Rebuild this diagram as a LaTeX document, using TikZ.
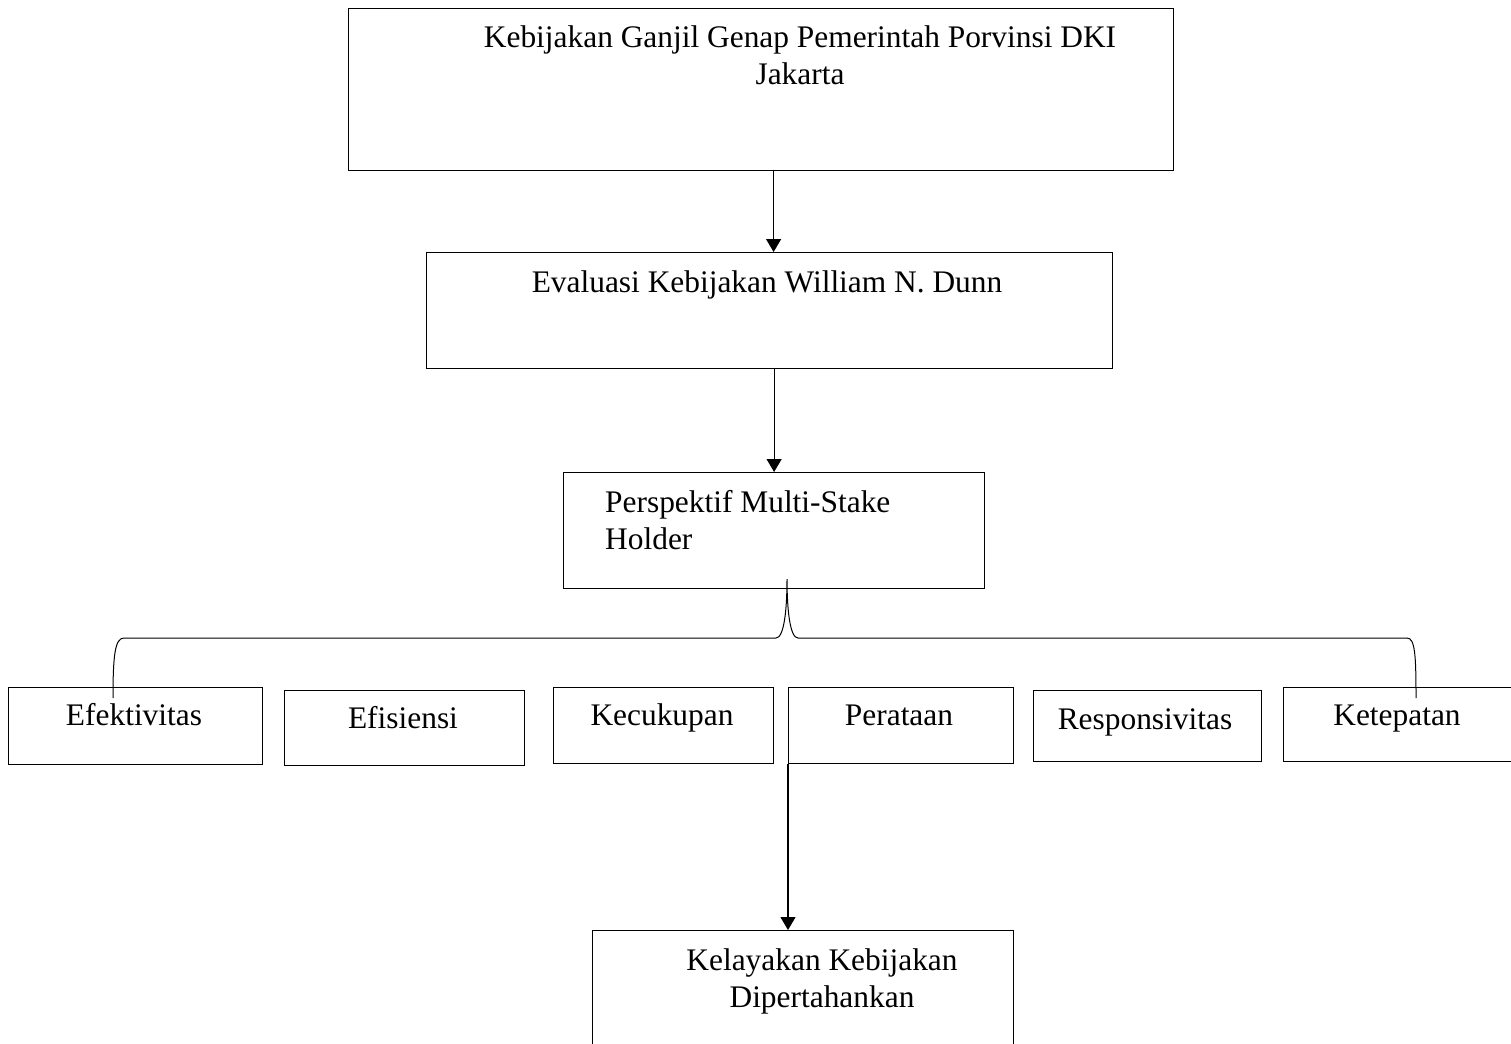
\documentclass[tikz,border=0pt]{standalone}
\usepackage{fontspec}
\setmainfont{Liberation Serif}
\usetikzlibrary{arrows.meta}

\begin{document}
\begin{tikzpicture}[x=1pt,y=-1pt,
    box/.style={draw,line width=1.2pt,anchor=north west,inner sep=0pt},
    lbl/.style={inner sep=0pt,font=\fontsize{31.4pt}{37pt}\selectfont},
    arr/.style={line width=1.2pt,-{Triangle[length=13pt,width=15pt]}}]
      \useasboundingbox (0,0) rectangle (1511,1043);
      % kotak
      \node[box,minimum width=825pt,minimum height=162pt] (ganjil) at (348,8) {};
      \node[box,minimum width=686pt,minimum height=116pt] (dunn) at (426,252) {};
      \node[box,minimum width=421pt,minimum height=116pt] (stake) at (563,472) {};
      \node[box,minimum width=254pt,minimum height=77pt] (efek) at (8,687) {};
      \node[box,minimum width=240pt,minimum height=75pt] (efis) at (284,690) {};
      \node[box,minimum width=220pt,minimum height=76pt] (kecu) at (553,687) {};
      \node[box,minimum width=225pt,minimum height=76pt] (rata) at (788,687) {};
      \node[box,minimum width=228pt,minimum height=71pt] (resp) at (1033,690) {};
      \node[box,minimum width=232pt,minimum height=74pt] (tepat) at (1283,687) {};
      \node[box,minimum width=421pt,minimum height=130pt] (layak) at (592,930) {};
      % teks
      \node[lbl,anchor=north,align=center] (ganjilTxt) at (800,25.6) {Kebijakan Ganjil Genap Pemerintah Porvinsi DKI\\Jakarta};
      \node[lbl,anchor=base] (dunnTxt) at (767,292) {Evaluasi Kebijakan William N. Dunn};
      \node[lbl,anchor=north west,align=left] (stakeTxt) at (605,490.6) {Perspektif Multi-Stake\\Holder};
      \node[lbl,anchor=base] (efekTxt) at (134,725) {Efektivitas};
      \node[lbl,anchor=base] (efisTxt) at (403,728) {Efisiensi};
      \node[lbl,anchor=base] (kecuTxt) at (662,725) {Kecukupan};
      \node[lbl,anchor=base] (rataTxt) at (899,725) {Perataan};
      \node[lbl,anchor=base] (respTxt) at (1145,729) {Responsivitas};
      \node[lbl,anchor=base] (tepatTxt) at (1397,725) {Ketepatan};
      \node[lbl,anchor=north,align=center] (layakTxt) at (822,948.6) {Kelayakan Kebijakan\\Dipertahankan};
      % panah
      \draw[arr] ([xshift=4pt]dunn.north |- ganjil.south) -- ([xshift=4pt]dunn.north);
      \draw[arr] (stake.north |- dunn.south) -- (stake.north);
      \draw[arr] (rata.south west) -- (rata.south west |- layak.north);
      % kurung kurawal
      \coordinate (braceL) at (113,698);
      \coordinate (braceTip) at (787,579);
      \coordinate (braceR) at (1416,698);
      \draw[line width=1pt] (braceL) .. controls (113,655) and (115,638) .. (124,638) -- (776,638)
            .. controls (784,638) and (787,610) .. (braceTip)
            .. controls (787,610) and (790,638) .. (798,638) -- (1407,638)
            .. controls (1415,638) and (1416,655) .. (braceR);
    \end{tikzpicture}
\end{document}
